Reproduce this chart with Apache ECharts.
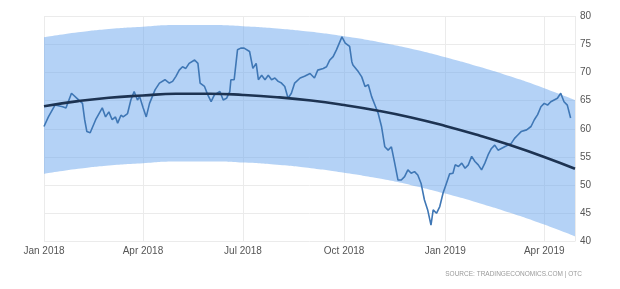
<!DOCTYPE html>
<html>
<head>
<meta charset="utf-8">
<script src="https://cdn.jsdelivr.net/npm/echarts@6/dist/echarts.min.js"></script>
<style>
html,body{margin:0;padding:0;background:#fff;}
#chart{width:620px;height:289px;}
</style>
</head>
<body>
<div id="chart"></div>
<script>
// Price series (dates and values)
var priceDates = [
'2018-01-01','2018-01-05','2018-01-11','2018-01-18','2018-01-21','2018-01-26','2018-01-31','2018-02-05','2018-02-07','2018-02-09',
'2018-02-12','2018-02-17','2018-02-23','2018-02-26','2018-03-01','2018-03-04','2018-03-07','2018-03-09','2018-03-12','2018-03-14',
'2018-03-18','2018-03-21','2018-03-24','2018-03-27','2018-03-29','2018-04-01','2018-04-04','2018-04-07','2018-04-12','2018-04-16',
'2018-04-21','2018-04-25','2018-04-28','2018-05-01','2018-05-04','2018-05-07','2018-05-10','2018-05-13','2018-05-18','2018-05-21',
'2018-05-23','2018-05-27','2018-05-30','2018-06-02','2018-06-05','2018-06-10','2018-06-13','2018-06-16','2018-06-19','2018-06-20',
'2018-06-23','2018-06-26','2018-06-29','2018-07-02','2018-07-07','2018-07-10','2018-07-13','2018-07-15','2018-07-18','2018-07-21',
'2018-07-24','2018-07-27','2018-07-30','2018-08-02','2018-08-05','2018-08-08','2018-08-11','2018-08-14','2018-08-17','2018-08-22',
'2018-08-26','2018-08-31','2018-09-04','2018-09-07','2018-09-12','2018-09-15','2018-09-18','2018-09-21','2018-09-24','2018-09-29',
'2018-10-02','2018-10-06','2018-10-08','2018-10-09','2018-10-14','2018-10-17','2018-10-20','2018-10-23','2018-10-26','2018-10-29',
'2018-11-01','2018-11-04','2018-11-07','2018-11-10','2018-11-13','2018-11-16','2018-11-19','2018-11-22','2018-11-25','2018-11-28',
'2018-12-01','2018-12-04','2018-12-07','2018-12-10','2018-12-13','2018-12-16','2018-12-19','2018-12-21','2018-12-24','2018-12-27',
'2018-12-30','2019-01-02','2019-01-05','2019-01-08','2019-01-10','2019-01-13','2019-01-16','2019-01-19','2019-01-22','2019-01-25',
'2019-01-28','2019-01-31','2019-02-03','2019-02-06','2019-02-09','2019-02-12','2019-02-15','2019-02-18','2019-02-21','2019-02-24',
'2019-02-27','2019-03-02','2019-03-05','2019-03-08','2019-03-11','2019-03-16','2019-03-20','2019-03-23','2019-03-26','2019-03-29',
'2019-04-01','2019-04-04','2019-04-07','2019-04-10','2019-04-13','2019-04-16','2019-04-19','2019-04-22','2019-04-25'
];
var priceValues = [
60.4,62.1,64.2,63.9,63.7,66.3,65.4,64.5,61.6,59.5,
59.3,61.6,63.7,62.1,63.0,61.6,62.1,61.0,62.4,62.1,
62.7,65.1,66.6,65.1,65.7,63.8,62.1,64.5,66.9,68.1,
68.7,68.1,68.4,69.3,70.4,71.0,70.7,71.6,72.2,71.6,
68.1,67.5,66.0,64.8,66.0,66.6,65.1,65.4,66.6,68.7,
68.7,74.0,74.3,74.3,73.7,70.7,71.6,68.7,69.5,68.7,
69.5,68.7,69.0,68.4,68.1,67.5,65.4,66.3,68.1,69.0,
69.3,69.8,69.0,70.4,70.7,71.0,72.2,72.8,74.0,76.3,
75.2,74.6,71.9,71.3,70.1,69.2,67.5,67.8,65.7,64.2,
62.7,60.4,56.8,56.2,56.8,53.9,50.9,50.9,51.5,52.7,
52.1,52.4,51.8,50.3,47.4,45.6,42.9,45.6,45.0,46.2,
48.6,50.3,52.0,52.1,53.6,53.3,53.9,53.0,53.6,55.1,
54.2,53.6,52.7,53.9,55.4,56.5,57.1,56.2,56.5,56.8,
57.1,57.4,58.3,58.9,59.5,59.8,60.4,61.6,62.5,63.9,
64.5,64.2,64.8,65.1,65.4,66.3,64.8,64.2,61.9
];

// Trend line and band (read at month starts)
var trendDates = ['2018-01-01','2018-02-01','2018-03-01','2018-04-01','2018-05-01','2018-06-01','2018-07-01','2018-08-01','2018-09-01','2018-10-01','2018-11-01','2018-12-01','2019-01-01','2019-02-01','2019-03-01','2019-04-01','2019-04-29'];
var trendValues = [64.0,64.9,65.5,65.9,66.2,66.2,66.0,65.6,65.0,64.2,63.2,62.0,60.5,58.8,57.1,55.0,52.9];
var bandLower = [52.0,52.9,53.5,53.9,54.2,54.2,54.0,53.6,53.0,52.2,51.2,50.0,48.5,46.8,45.1,43.0,40.9];
var bandUpper = [76.2,77.1,77.7,78.1,78.4,78.4,78.2,77.8,77.2,76.4,75.4,74.2,72.7,71.0,69.3,67.2,65.1];

var yTicks = [40,45,50,55,60,65,70,75,80];
var sourceText = 'SOURCE: TRADINGECONOMICS.COM | OTC';
var monthNames = ['Jan','Feb','Mar','Apr','May','Jun','Jul','Aug','Sep','Oct','Nov','Dec'];

function pairs(d, v){ return d.map(function(x,i){ return [x, v[i]]; }); }
var bandWidth = bandUpper.map(function(u,i){ return +(u - bandLower[i]).toFixed(1); });

var chart = echarts.init(document.getElementById('chart'));
chart.setOption({
  animation: false,
  backgroundColor: '#ffffff',
  grid: { left: 44, right: 45, top: 16, bottom: 47.5 },
  xAxis: {
    type: 'time',
    min: '2018-01-01',
    max: '2019-04-29',
    splitNumber: 5,
    minInterval: 80 * 86400000,
    axisLine: { show: false },
    axisTick: { show: false },
    splitLine: { show: true, lineStyle: { color: '#ebebeb', width: 1 } },
    axisLabel: {
      color: '#555', fontSize: 10, fontFamily: 'Liberation Sans', margin: 5,
      hideOverlap: false,
      formatter: function(val){ var d = new Date(val); return monthNames[d.getMonth()] + ' ' + d.getFullYear(); }
    }
  },
  yAxis: {
    type: 'value',
    position: 'right',
    min: yTicks[0], max: yTicks[yTicks.length-1], interval: 5,
    axisLine: { show: false },
    axisTick: { show: false },
    splitLine: { lineStyle: { color: '#ebebeb', width: 1 } },
    axisLabel: { color: '#555', fontSize: 10, fontFamily: 'Liberation Sans', margin: 5 }
  },
  series: [
    { type: 'line', name: 'lower', data: pairs(trendDates, bandLower), stack: 'band', smooth: true,
      symbol: 'none', lineStyle: { opacity: 0 }, silent: true, z: 1 },
    { type: 'line', name: 'band', data: pairs(trendDates, bandWidth), stack: 'band', smooth: true,
      symbol: 'none', lineStyle: { opacity: 0 }, areaStyle: { color: 'rgba(105,165,237,0.5)', opacity: 1 }, silent: true, z: 1 },
    { type: 'line', name: 'price', data: pairs(priceDates, priceValues), symbol: 'none',
      lineStyle: { color: '#3f77b5', width: 1.6 }, z: 3 },
    { type: 'line', name: 'trend', data: pairs(trendDates, trendValues), smooth: true, symbol: 'none',
      lineStyle: { color: '#1d3352', width: 2.6 }, z: 4 }
  ],
  graphic: [
    { type: 'text', right: 38, top: 271, style: { text: sourceText, fill: '#9a9a9a', fontSize: 6.5, fontFamily: 'Liberation Sans' } }
  ]
});
</script>
</body>
</html>
